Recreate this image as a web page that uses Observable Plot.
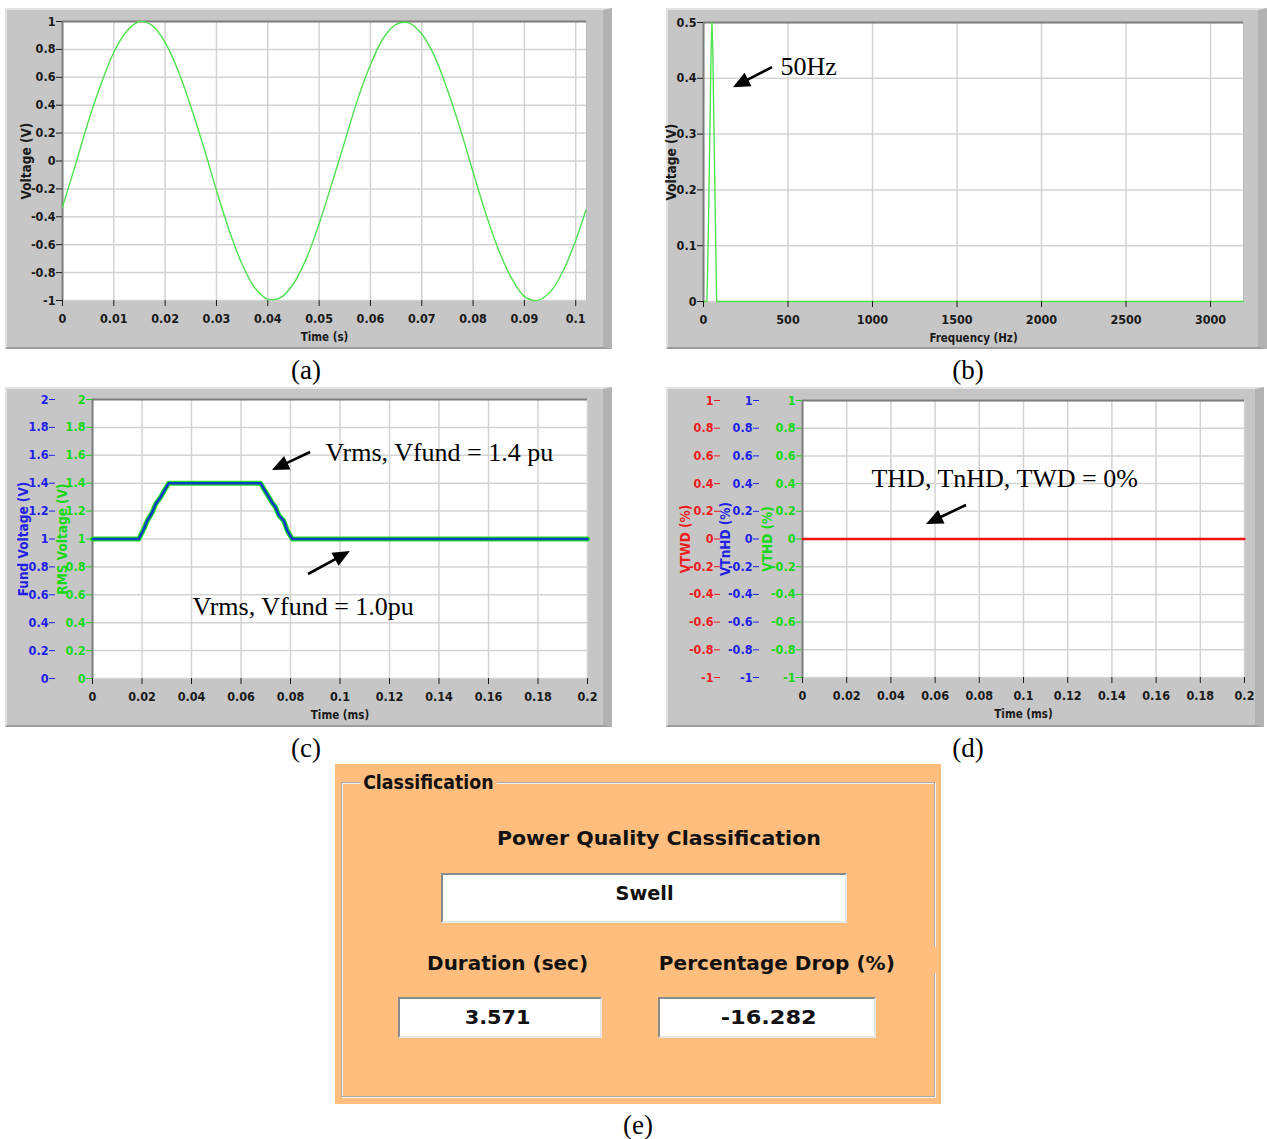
<!DOCTYPE html>
<html><head><meta charset="utf-8">
<script src="https://cdn.jsdelivr.net/npm/d3@7"></script>
<script src="https://cdn.jsdelivr.net/npm/@observablehq/plot@0.6"></script>
<style>
body{margin:0;background:#fff;}
#root{position:relative;width:1267px;height:1139px;overflow:hidden;background:#fff;}
.frame{position:absolute;box-sizing:border-box;background:#c6c6c6;border-top:2px solid #e4e4e4;border-left:2px solid #e0e0e0;border-right:9px solid #b2b2b2;border-bottom:2px solid #9c9c9c;}
.slot{position:absolute;}
.slot svg{overflow:visible;display:block;}
.cap{position:absolute;font-family:"Liberation Serif","Times New Roman",serif;font-size:27px;transform:translate(-50%,-50%);white-space:nowrap;color:#000;}
#pe{position:absolute;left:335px;top:764px;width:606px;height:340px;background:#FFBE7E;}
#pe .grp{position:absolute;left:6px;top:18px;width:594px;height:315px;box-sizing:border-box;border:1px solid #a9a9a9;box-shadow:1px 1px 0 #f2f2f2, inset 1px 1px 0 #f2f2f2;}
#pe .t{position:absolute;font-family:"DejaVu Sans",sans-serif;font-weight:bold;font-size:19px;color:#111;white-space:nowrap;transform-origin:center center;}
#pe .box{position:absolute;background:#fff;box-sizing:border-box;border-top:2px solid #8a8a8a;border-left:2px solid #8a8a8a;border-right:2px solid #e6e6e6;border-bottom:2px solid #e6e6e6;}
</style></head>
<body><div id="root">
  <div class="frame" style="left:5px;top:8px;width:607px;height:341px"></div>
  <div class="frame" style="left:666px;top:8px;width:601px;height:341px"></div>
  <div class="frame" style="left:5px;top:387px;width:607px;height:340px"></div>
  <div class="frame" style="left:666px;top:387px;width:598px;height:340px"></div>
  <div id="pa" class="slot" style="left:5px;top:8px"></div>
  <div id="pb" class="slot" style="left:666px;top:8px"></div>
  <div id="pc" class="slot" style="left:5px;top:387px"></div>
  <div id="pd" class="slot" style="left:666px;top:387px"></div>
  <div class="cap" style="left:306px;top:370px">(a)</div>
  <div class="cap" style="left:968px;top:370px">(b)</div>
  <div class="cap" style="left:306px;top:748px">(c)</div>
  <div class="cap" style="left:968px;top:748px">(d)</div>
  <div class="cap" style="left:638px;top:1125px">(e)</div>
  <div id="pe">
    <div class="grp"></div>
    <div style="position:absolute;left:597px;top:183px;width:8px;height:26px;background:#FFBE7E"></div>
    <div class="t" data-cx="93" data-cy="18" data-w="136" style="background:#FFBE7E;padding:0 3px">Classification</div>
    <div class="t" data-cx="324" data-cy="74" data-w="324">Power Quality Classification</div>
    <div class="box" style="left:106px;top:109px;width:406px;height:50px"></div>
    <div class="t" data-cx="310" data-cy="129" data-w="58">Swell</div>
    <div class="t" data-cx="173" data-cy="199" data-w="161">Duration (sec)</div>
    <div class="t" data-cx="442" data-cy="199" data-w="236">Percentage Drop (%)</div>
    <div class="box" style="left:63px;top:233px;width:204px;height:41px"></div>
    <div class="box" style="left:323px;top:233px;width:218px;height:41px"></div>
    <div class="t" data-cx="163" data-cy="253" data-w="66" style="font-size:20px">3.571</div>
    <div class="t" data-cx="434" data-cy="253" data-w="96" style="font-size:20px">-16.282</div>
  </div>
</div>
<script>
// ---------- (a) time-domain voltage ----------
const sineTime = [0,0.0025,0.005,0.0075,0.01,0.0125,0.015,0.0175,0.02,0.0225,0.025,0.0275,0.03,0.0325,0.035,0.0375,0.04,0.0425,0.045,0.0475,0.05,0.0525,0.055,0.0575,0.06,0.0625,0.065,0.0675,0.07,0.0725,0.075,0.0775,0.08,0.0825,0.085,0.0875,0.09,0.0925,0.095,0.0975,0.1,0.102];
const sineVolt = [-0.33,-0.03,0.28,0.55,0.78,0.93,1.0,0.97,0.85,0.65,0.39,0.1,-0.21,-0.5,-0.74,-0.91,-0.99,-0.98,-0.88,-0.7,-0.45,-0.16,0.14,0.44,0.69,0.88,0.98,0.99,0.91,0.75,0.51,0.23,-0.08,-0.38,-0.64,-0.84,-0.97,-1.0,-0.94,-0.79,-0.57,-0.35];
const aXTicks = [0,0.01,0.02,0.03,0.04,0.05,0.06,0.07,0.08,0.09,0.1];
const aYTicks = [-1,-0.8,-0.6,-0.4,-0.2,0,0.2,0.4,0.6,0.8,1];

// ---------- (b) spectrum ----------
const specFreq = [0,20,24,30,35,40,45,50,55,60,65,70,75,78,3195];
const specVolt = [0,0,0.05,0.15,0.25,0.35,0.45,0.5,0.45,0.35,0.25,0.15,0.05,0,0];
const bXTicks = [0,500,1000,1500,2000,2500,3000];
const bYTicks = [0,0.1,0.2,0.3,0.4,0.5];

// ---------- (c) RMS / fundamental voltage ----------
const rmsTime = [0,0.0187,0.0207,0.0221,0.0241,0.0255,0.0275,0.0288,0.0308,0.0679,0.0692,0.0706,0.0726,0.0739,0.0753,0.0773,0.0787,0.0807,0.2];
const rmsVolt = [1.0,1.0,1.07,1.13,1.19,1.25,1.30,1.34,1.40,1.40,1.36,1.32,1.26,1.23,1.17,1.13,1.06,1.0,1.0];
const cXTicks = [0,0.02,0.04,0.06,0.08,0.1,0.12,0.14,0.16,0.18,0.2];
const cYTicks = [0,0.2,0.4,0.6,0.8,1,1.2,1.4,1.6,1.8,2];

// ---------- (d) distortion ----------
const thdTime = [0,0.2];
const thdVal = [0,0];
const dXTicks = cXTicks;
const dYTicks = [-1,-0.8,-0.6,-0.4,-0.2,0,0.2,0.4,0.6,0.8,1];

// ---------- annotations (data coordinates) ----------
const annoB = [{x:455, y:0.421, label:"50Hz"}];
const arrowsB = [{x1:408, y1:0.419, x2:177, y2:0.383}];
const annoC = [{x:0.0941, y:1.62, label:"Vrms, Vfund = 1.4 pu"},{x:0.0404, y:0.516, label:"Vrms, Vfund = 1.0pu"}];
const arrowsC = [{x1:0.0881, y1:1.62, x2:0.0727, y2:1.491},{x1:0.0873, y1:0.7455, x2:0.1042, y2:0.91}];
const annoD = [{x:0.0312, y:0.437, label:"THD, TnHD, TWD = 0%"}];
const arrowsD = [{x1:0.0742, y1:0.242, x2:0.0561, y2:0.105}];

// ---------- helpers ----------
const fmt = d => String(+d.toFixed(4));
const axisFont = {fontFamily:"'Liberation Sans Narrow','DejaVu Sans Condensed',sans-serif", fontSize:"12.5px", fontWeight:"bold", background:"transparent", color:"#1a1a1a", overflow:"visible"};
const gridStyle = {stroke:"#d3d3d3", strokeOpacity:1, strokeWidth:1.5};
const serif = {fontFamily:"'Liberation Serif','Times New Roman',serif", fontSize:26, fontWeight:"normal", fill:"#000", textAnchor:"start"};

function arrowMark(arrows) {
  return (index, scales) => {
    const g = d3.create("svg:g");
    for (const a of arrows) {
      const x1 = scales.x(a.x1), y1 = scales.y(a.y1), x2 = scales.x(a.x2), y2 = scales.y(a.y2);
      const dx = x2 - x1, dy = y2 - y1, L = Math.hypot(dx, dy), ux = dx / L, uy = dy / L;
      const hl = 17, hw = 7.5;
      const bx = x2 - ux * hl, by = y2 - uy * hl;
      g.append("line").attr("x1", x1).attr("y1", y1).attr("x2", bx + ux * 2).attr("y2", by + uy * 2)
        .attr("stroke", "#000").attr("stroke-width", 2.6);
      g.append("path").attr("d", `M${x2},${y2}L${bx - uy * hw},${by + ux * hw}L${bx + uy * hw},${by - ux * hw}Z`).attr("fill", "#000");
    }
    return g.node();
  };
}
function background() {
  return [Plot.frame({fill:"white", stroke:"#bcbcbc", strokeWidth:1})];
}
function edges(xMin, yMax) {
  return [
    Plot.ruleY([yMax], {stroke:"#7c7c7c", strokeWidth:2}),
    Plot.ruleX([xMin], {stroke:"#7c7c7c", strokeWidth:2})
  ];
}
function yAx(ticks, color, dx) {
  return Plot.axisY({ticks, tickFormat:fmt, tickSize:6, tickPadding:1, color, dx, label:null});
}
function xAx(ticks) {
  return Plot.axisX({ticks, tickFormat:fmt, tickSize:6, tickPadding:8, color:"#1a1a1a", label:null});
}
function yTitle(text, dx, color) {
  return Plot.text([text], {frameAnchor:"left", textAnchor:"middle", lineAnchor:"middle", dx, rotate:-90, fill:color, fontSize:13.5});
}
function xTitle(text) {
  return Plot.text([text], {frameAnchor:"bottom", textAnchor:"middle", lineAnchor:"middle", dy:37, fill:"#1a1a1a", fontSize:11.5});
}

// ---------- (a) ----------
const sine = sineTime.map((t, i) => ({t, v: sineVolt[i]}));
document.getElementById("pa").append(Plot.plot({
  width:606, height:340, marginLeft:57, marginRight:25, marginTop:13, marginBottom:48,
  x:{domain:[0,0.1021]}, y:{domain:[-1,1]}, style:axisFont,
  marks:[
    ...background(),
    Plot.gridX({ticks:aXTicks, ...gridStyle}),
    Plot.gridY({ticks:aYTicks, ...gridStyle}),
    ...edges(0, 1),
    Plot.line(sine, {x:"t", y:"v", stroke:"#4ee24e", strokeWidth:1.4, curve:"catmull-rom"}),
    xAx(aXTicks),
    yAx(aYTicks, "#1a1a1a", 0),
    xTitle("Time (s)"),
    yTitle("Voltage (V)", -36, "#1a1a1a")
  ]
}));

// ---------- (b) ----------
const spec = specFreq.map((f, i) => ({f, v: specVolt[i]}));
document.getElementById("pb").append(Plot.plot({
  width:600, height:340, marginLeft:37, marginRight:23, marginTop:14, marginBottom:47,
  x:{domain:[0,3195]}, y:{domain:[0,0.5]}, style:axisFont,
  marks:[
    ...background(),
    Plot.gridX({ticks:bXTicks, ...gridStyle}),
    Plot.gridY({ticks:bYTicks, ...gridStyle}),
    ...edges(0, 0.5),
    Plot.line(spec, {x:"f", y:"v", stroke:"#4ee24e", strokeWidth:1.4}),
    xAx(bXTicks),
    yAx(bYTicks, "#1a1a1a", 0),
    xTitle("Frequency (Hz)"),
    yTitle("Voltage (V)", -32, "#1a1a1a"),
    arrowMark(arrowsB),
    Plot.text(annoB, {x:"x", y:"y", text:"label", ...serif})
  ]
}));

// ---------- (c) ----------
const rms = rmsTime.map((t, i) => ({t, v: rmsVolt[i]}));
const BLUE = "#1f1fe6", GREEN = "#16d816", RED = "#ee1c1c";
document.getElementById("pc").append(Plot.plot({
  width:606, height:339, marginLeft:87, marginRight:24, marginTop:12, marginBottom:48,
  x:{domain:[0,0.2]}, y:{domain:[0,2]}, style:axisFont,
  marks:[
    ...background(),
    Plot.gridX({ticks:cXTicks, ...gridStyle}),
    Plot.gridY({ticks:cYTicks, ...gridStyle}),
    ...edges(0, 2),
    Plot.line(rms, {x:"t", y:"v", stroke:"#22e022", strokeWidth:5}),
    Plot.line(rms, {x:"t", y:"v", stroke:"#0a3cc8", strokeWidth:2.6}),
    xAx(cXTicks),
    yAx(cYTicks, GREEN, 0),
    yAx(cYTicks, BLUE, -37),
    xTitle("Time (ms)"),
    yTitle("Fund Voltage (V)", -69, BLUE),
    yTitle("RMS Voltage (V)", -30, GREEN),
    arrowMark(arrowsC),
    Plot.text(annoC, {x:"x", y:"y", text:"label", ...serif})
  ]
}));

// ---------- (d) ----------
const thd = thdTime.map((t, i) => ({t, v: thdVal[i]}));
document.getElementById("pd").append(Plot.plot({
  width:597, height:339, marginLeft:136, marginRight:19, marginTop:13, marginBottom:49,
  x:{domain:[0,0.2]}, y:{domain:[-1,1]}, style:axisFont,
  marks:[
    ...background(),
    Plot.gridX({ticks:dXTicks, ...gridStyle}),
    Plot.gridY({ticks:dYTicks, ...gridStyle}),
    ...edges(0, 1),
    Plot.line(thd, {x:"t", y:"v", stroke:"#f01010", strokeWidth:2.4}),
    xAx(dXTicks),
    yAx(dYTicks, GREEN, 0),
    yAx(dYTicks, BLUE, -43),
    yAx(dYTicks, RED, -82),
    xTitle("Time (ms)"),
    yTitle("VTWD (%)", -117, RED),
    yTitle("VTnHD (%)", -77, BLUE),
    yTitle("VTHD (%)", -35, GREEN),
    arrowMark(arrowsD),
    Plot.text(annoD, {x:"x", y:"y", text:"label", ...serif})
  ]
}));

// ---------- (e) text placement ----------
document.querySelectorAll("#pe .t").forEach(el => {
  const w = el.getBoundingClientRect().width;
  const target = +el.dataset.w;
  const s = target / w;
  el.style.left = (+el.dataset.cx - w / 2) + "px";
  const h = el.getBoundingClientRect().height;
  el.style.top = (+el.dataset.cy - h / 2) + "px";
  el.style.transform = `scaleX(${s})`;
});
</script>
</body></html>
